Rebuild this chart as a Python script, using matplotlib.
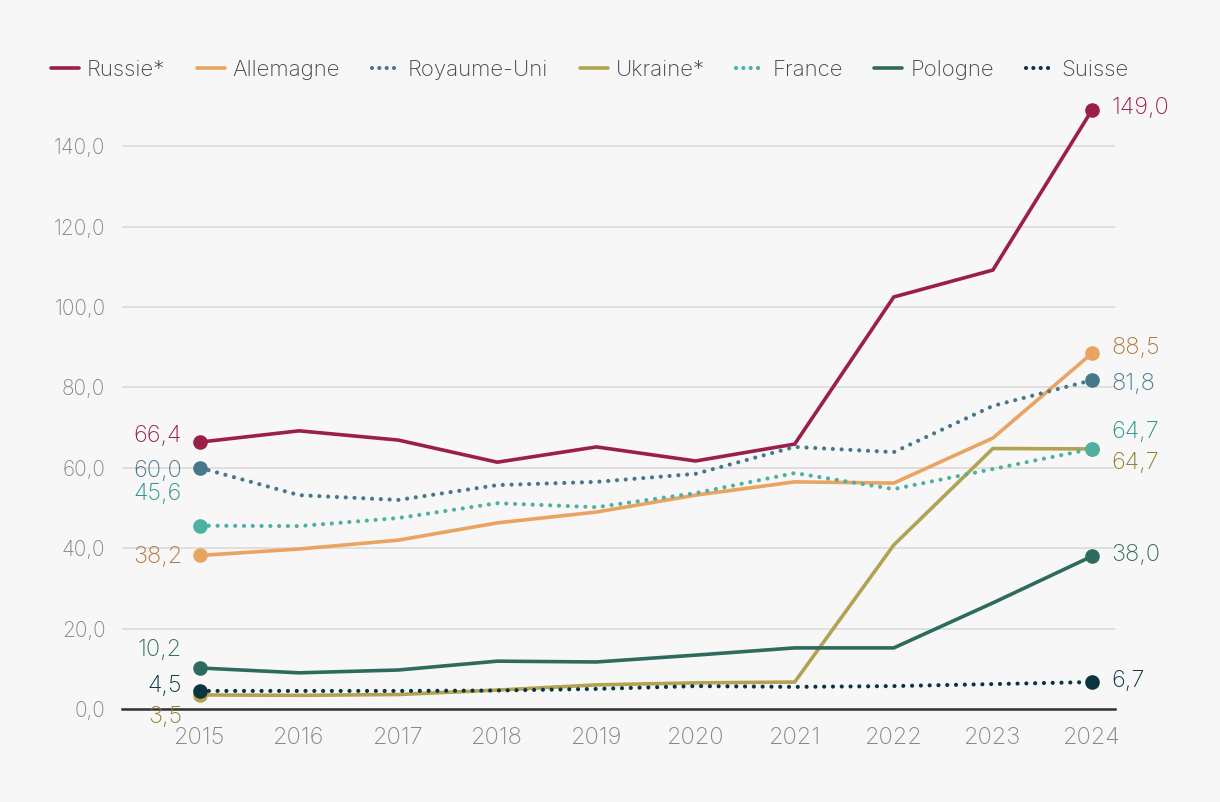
import matplotlib
matplotlib.use("Agg")
import matplotlib.pyplot as plt
from matplotlib.lines import Line2D

years = [2015, 2016, 2017, 2018, 2019, 2020, 2021, 2022, 2023, 2024]
russie = [66.4, 69.2, 66.9, 61.4, 65.2, 61.7, 65.9, 102.5, 109.2, 149.0]
allemagne = [38.2, 39.8, 42.0, 46.3, 49.0, 53.2, 56.5, 56.2, 67.4, 88.5]
royaume_uni = [60.0, 53.2, 52.0, 55.7, 56.5, 58.5, 65.2, 63.9, 75.4, 81.8]
ukraine = [3.5, 3.4, 3.6, 4.7, 6.0, 6.5, 6.7, 40.8, 64.8, 64.7]
france = [45.6, 45.5, 47.5, 51.2, 50.2, 53.7, 58.7, 54.7, 59.7, 64.7]
pologne = [10.2, 9.0, 9.7, 11.9, 11.7, 13.4, 15.2, 15.2, 26.4, 38.0]
suisse = [4.5, 4.5, 4.5, 4.6, 5.0, 5.7, 5.5, 5.7, 6.2, 6.7]
yticks = [0, 20, 40, 60, 80, 100, 120, 140]

series = [
    ("Russie*", russie, "#9b2049", "#9b2049", "-", (-18, 6), (19, 2)),
    ("Allemagne", allemagne, "#e9a462", "#b07636", "-", (-18, -2), (19, 5)),
    ("Royaume-Uni", royaume_uni, "#47788a", "#47788a", "dot", (-18, -3), (19, -4)),
    ("Ukraine*", ukraine, "#b2a352", "#8f7f2e", "-", (-18, -22), (19, -14)),
    ("France", france, "#4db0a3", "#2a9488", "dot", (-18, 32), (19, 17)),
    ("Pologne", pologne, "#2e6b5f", "#2e6b5f", "-", (-18, 18), (19, 1)),
    ("Suisse", suisse, "#0b3441", "#0b3441", "dot", (-18, 5), (19, 1)),
]

plt.rcParams['font.family'] = ['Inter', 'DejaVu Sans']
bg = "#f7f7f7"
fig = plt.figure(figsize=(12.2, 8.02), dpi=100, facecolor=bg)
ax = fig.add_axes([122/1220, 1-709/802, (1115-122)/1220, (709-100)/802])
ax.set_facecolor(bg)
ax.set_xlim(2014.213, 2024.232)
ax.set_ylim(0, 151.5)

lw = 2.6
dlw = 3.0
handles = []
for name, vals, col, lcol, ls, loff, roff in series:
    if ls == "dot":
        ax.plot(years, vals, color=col, lw=dlw, linestyle=(0, (0.01, 2.1)),
                dash_capstyle='round', zorder=3)
        h = Line2D([], [], color=col, lw=dlw, linestyle=(0, (0.01, 1.75)), dash_capstyle='round')
    else:
        ax.plot(years, vals, color=col, lw=lw, solid_capstyle='round',
                solid_joinstyle='miter', zorder=3)
        h = Line2D([], [], color=col, lw=lw, solid_capstyle='round')
    handles.append(h)
    ax.plot([years[0], years[-1]], [vals[0], vals[-1]], 'o', color=col, ms=9.5, zorder=4)
    ax.annotate(f"{vals[0]:.1f}".replace('.', ','), (years[0], vals[0]), xytext=loff,
                textcoords='offset pixels', ha='right', va='center', color=lcol,
                fontsize=17, fontweight='light')
    ax.annotate(f"{vals[-1]:.1f}".replace('.', ','), (years[-1], vals[-1]), xytext=roff,
                textcoords='offset pixels', ha='left', va='center', color=lcol,
                fontsize=17, fontweight='light')

ax.set_yticks(yticks)
ax.set_yticklabels([f"{v:.1f}".replace('.', ',') for v in yticks])
ax.set_xticks(years)
ax.set_xticklabels([str(y) for y in years])
ax.tick_params(axis='both', length=0, labelcolor="#858585")
ax.tick_params(axis='y', pad=12, labelsize=15)
ax.tick_params(axis='x', pad=13, labelsize=17)
for lab in ax.get_xticklabels() + ax.get_yticklabels():
    lab.set_fontweight('light')
ax.grid(axis='y', color="#dddddd", lw=1.3, zorder=0)
ax.set_axisbelow(True)
for s in ['top', 'right', 'left']:
    ax.spines[s].set_visible(False)
ax.spines['bottom'].set_color("#333333")
ax.spines['bottom'].set_linewidth(1.8)
ax.spines['bottom'].set_zorder(2)

leg = fig.legend(handles, [s[0] for s in series], loc='center left',
                 bbox_to_anchor=(44/1220, 1-70/802), ncol=7, frameon=False,
                 handlelength=1.26, handletextpad=0.36, columnspacing=1.42,
                 borderaxespad=0, borderpad=0.3,
                 prop={'size': 16, 'weight': 'light'})
for t in leg.get_texts():
    t.set_color("#444444")

fig.savefig("out.png", dpi=100, facecolor=bg)
